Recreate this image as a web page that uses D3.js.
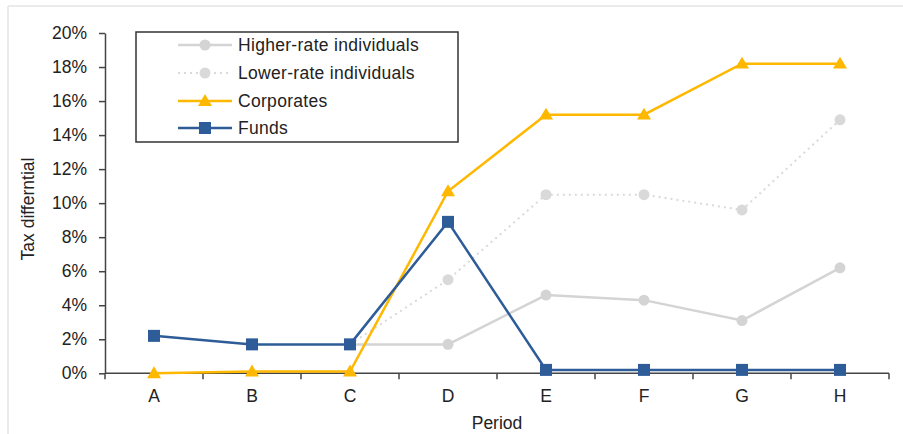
<!DOCTYPE html>
<html>
<head>
<meta charset="utf-8">
<script src="https://cdn.jsdelivr.net/npm/d3@7"></script>
<style>
  html, body { margin: 0; padding: 0; background: #fff; }
  svg { display: block; font-family: "Liberation Sans", Arial, sans-serif; }
</style>
</head>
<body>
<svg id="chart" width="903" height="434"></svg>
<script>
// Tax differential by period, per investor type
const periods = ["A", "B", "C", "D", "E", "F", "G", "H"];
const higherRate = [null, null, 1.7, 1.7, 4.6, 4.3, 3.1, 6.2];
const lowerRate  = [null, null, 1.7, 5.5, 10.5, 10.5, 9.6, 14.9];
const corporates = [0, 0.1, 0.1, 10.7, 15.2, 15.2, 18.2, 18.2];
const funds      = [2.2, 1.7, 1.7, 8.9, 0.2, 0.2, 0.2, 0.2];
const yTicks = [0, 2, 4, 6, 8, 10, 12, 14, 16, 18, 20];

const series = [
  { name: "Higher-rate individuals", values: higherRate, color: "#d4d4d4", dash: null, marker: "circle" },
  { name: "Lower-rate individuals",  values: lowerRate,  color: "#d9d9d9", dash: "2,4", marker: "circle" },
  { name: "Corporates",              values: corporates, color: "#ffb800", dash: null, marker: "triangle" },
  { name: "Funds",                   values: funds,      color: "#2e5c98", dash: null, marker: "square" }
];

const FS = 17.5;
const svg = d3.select("#chart");
const plotLeft = 105, plotRight = 889, plotTop = 33, plotBottom = 373.3;

// light outer frame
svg.append("line").attr("x1", 8).attr("x2", 903).attr("y1", 6).attr("y2", 6)
  .attr("stroke", "#e4e4e4").attr("stroke-width", 1.5);
svg.append("line").attr("x1", 8).attr("x2", 8).attr("y1", 6).attr("y2", 434)
  .attr("stroke", "#e4e4e4").attr("stroke-width", 1.5);

const x = d3.scaleBand().domain(periods).range([plotLeft, plotRight]).padding(0);
const y = d3.scaleLinear().domain([0, 20]).range([plotBottom, plotTop]);
const cx = d => x(d) + x.bandwidth() / 2;

// y axis
const yAxis = svg.append("g").attr("transform", `translate(${plotLeft},0)`)
  .call(d3.axisLeft(y).tickValues(yTicks).tickFormat(d => d + "%").tickSize(6).tickSizeOuter(0));
yAxis.select(".domain").attr("stroke", "#444").attr("stroke-width", 1.5);
yAxis.selectAll(".tick line").attr("stroke", "#444").attr("stroke-width", 1.5);
yAxis.selectAll(".tick text").attr("x", -18).attr("font-size", FS).attr("fill", "#222")
  .attr("font-family", "Liberation Sans, Arial, sans-serif");

// x axis with ticks between categories
const xg = svg.append("g").attr("transform", `translate(0,${plotBottom})`);
xg.append("line").attr("x1", plotLeft).attr("x2", plotRight).attr("stroke", "#444").attr("stroke-width", 1.5);
const bounds = periods.map(p => x(p)).concat([plotRight]);
xg.selectAll("line.tk").data(bounds).join("line").attr("class", "tk")
  .attr("x1", d => d).attr("x2", d => d).attr("y1", 0).attr("y2", 6)
  .attr("stroke", "#444").attr("stroke-width", 1.5);
xg.selectAll("text").data(periods).join("text")
  .attr("x", d => cx(d)).attr("y", 29).attr("text-anchor", "middle")
  .attr("font-size", FS).attr("fill", "#222").text(d => d);

// axis titles
svg.append("text").attr("x", 497).attr("y", 429).attr("text-anchor", "middle")
  .attr("font-size", FS).attr("fill", "#222").text("Period");
svg.append("text").attr("transform", "translate(34,209) rotate(-90)").attr("text-anchor", "middle")
  .attr("font-size", FS).attr("fill", "#222").text("Tax differntial");

function drawMarker(g, type, px, py, color) {
  if (type === "circle") {
    g.append("circle").attr("cx", px).attr("cy", py).attr("r", 5.5).attr("fill", color);
  } else if (type === "triangle") {
    const s = 7;
    g.append("path").attr("d", `M${px},${py - s}L${px + s},${py + s * 0.7}L${px - s},${py + s * 0.7}Z`).attr("fill", color);
  } else {
    g.append("rect").attr("x", px - 6).attr("y", py - 6).attr("width", 12).attr("height", 12).attr("fill", color);
  }
}

// series lines and markers
const line = d3.line().defined(d => d.v !== null).x(d => cx(d.p)).y(d => y(d.v));
series.forEach(s => {
  const pts = periods.map((p, i) => ({ p, v: s.values[i] }));
  const g = svg.append("g");
  g.append("path").datum(pts).attr("d", line).attr("fill", "none")
    .attr("stroke", s.color).attr("stroke-width", s.dash ? 2 : 2.5)
    .attr("stroke-dasharray", s.dash);
  pts.filter(d => d.v !== null).forEach(d => drawMarker(g, s.marker, cx(d.p), y(d.v), s.color));
});

// legend
const lg = svg.append("g");
lg.append("rect").attr("x", 136).attr("y", 32).attr("width", 322).attr("height", 110)
  .attr("fill", "#fff").attr("stroke", "#333").attr("stroke-width", 1.5);
const rowY = [45, 73, 101, 128];
series.forEach((s, i) => {
  lg.append("line").attr("x1", 178).attr("x2", 232).attr("y1", rowY[i]).attr("y2", rowY[i])
    .attr("stroke", s.color).attr("stroke-width", s.dash ? 2 : 2.5).attr("stroke-dasharray", s.dash);
  drawMarker(lg, s.marker, 205, rowY[i], s.color);
  lg.append("text").attr("x", 238).attr("y", rowY[i] + 6).attr("font-size", FS)
    .attr("letter-spacing", 0.3).attr("fill", "#222").text(s.name);
});
</script>
</body>
</html>
